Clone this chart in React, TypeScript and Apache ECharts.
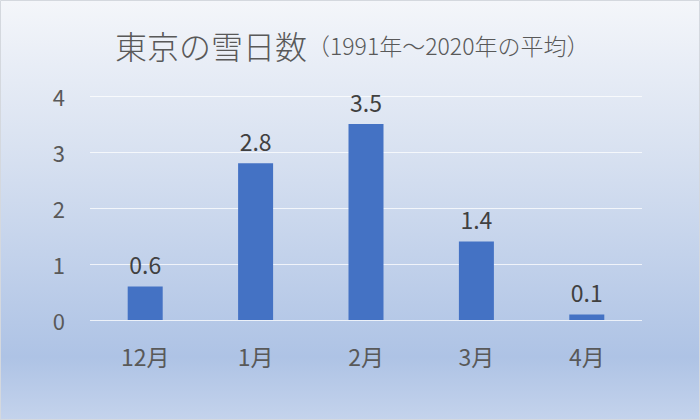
import React, { useEffect, useRef } from "react";
import * as echarts from "echarts";

const categories = ["12月", "1月", "2月", "3月", "4月"];
const snowDays = [0.6, 2.8, 3.5, 1.4, 0.1];
const titleMain = "東京の雪日数";
const titleSub = "（1991年〜2020年の平均）";

export default function App() {
  const ref = useRef<HTMLDivElement>(null);
  useEffect(() => {
    const chart = echarts.init(ref.current!, null, { renderer: "svg" });
    const font = '"Noto Sans CJK JP", "Noto Sans", sans-serif';
    chart.setOption({
      animation: false,
      backgroundColor: new echarts.graphic.LinearGradient(0, 0, 0, 1, [
        { offset: 0, color: "#f4f6fa" },
        { offset: 0.35, color: "#d9e2f1" },
        { offset: 0.85, color: "#aec3e5" },
        { offset: 1, color: "#c4d3ec" },
      ]),
      graphic: [
        {
          type: "rect",
          shape: { x: 0.5, y: 0.5, width: 699, height: 419 },
          style: { fill: "none", stroke: "#d4d8de", lineWidth: 1 },
          silent: true,
        },
      ],
      title: {
        text: `{a|${titleMain}}{b|${titleSub}}`,
        left: 110,
        top: 24,
        textStyle: {
          rich: {
            a: { fontSize: 32, color: "#595959", fontFamily: font, fontWeight: 300 },
            b: { fontSize: 23, color: "#595959", fontFamily: font, fontWeight: 300 },
          },
        },
      },
      grid: { left: 90, right: 58, top: 96, bottom: 100, containLabel: false },
      xAxis: {
        type: "category",
        data: categories,
        axisLine: { show: false },
        axisTick: { show: false },
        axisLabel: { fontSize: 23, color: "#595959", fontFamily: font, margin: 24 },
      },
      yAxis: {
        type: "value",
        min: 0,
        max: 4,
        interval: 1,
        axisLine: { show: false },
        axisTick: { show: false },
        axisLabel: { fontSize: 22, color: "#595959", fontFamily: font, margin: 25 },
        splitLine: { lineStyle: { color: "rgba(255,255,255,0.75)", width: 1 } },
      },
      series: [
        {
          type: "bar",
          data: snowDays,
          barWidth: 35,
          itemStyle: { color: "#4472c4" },
          label: {
            show: true,
            position: "top",
            distance: 11,
            fontSize: 23,
            color: "#404040",
            fontFamily: font,
            formatter: (p: any) => p.value.toFixed(1),
          },
        },
      ],
    });
    return () => chart.dispose();
  }, []);
  return (
    <div
      ref={ref}
      style={{ position: "fixed", left: 0, top: 0, width: 700, height: 420 }}
    />
  );
}
